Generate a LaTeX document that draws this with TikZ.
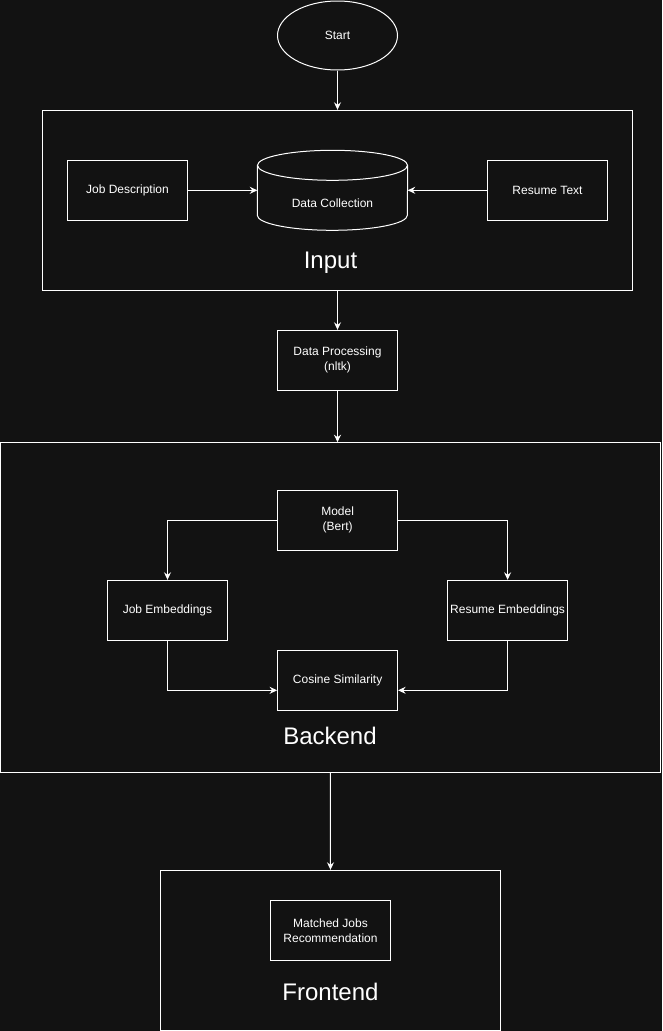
\documentclass[tikz,border=0pt]{standalone}
\usepackage{fontspec}
\setmainfont{Liberation Sans}
\usetikzlibrary{arrows.meta,calc,shapes.geometric}
\definecolor{bg}{HTML}{121212}
\begin{document}
\begin{tikzpicture}[x=1pt,y=-1pt,
  box/.style={draw=white,line width=1pt,minimum width=120pt,minimum height=60pt,inner sep=0pt,text=white,font=\fontsize{12}{15}\selectfont,align=center},
  grp/.style={draw=white,line width=1pt,inner sep=0pt},
  title/.style={text=white,font=\fontsize{24}{28}\selectfont,inner sep=0pt,anchor=base},
  conn/.style={draw=white,line width=1pt,-{Stealth[length=7.5pt,width=7pt,inset=2.5pt]}}]
\fill[bg] (0,0) rectangle (662,1031);
\useasboundingbox (0,0) rectangle (662,1031);

% Start
\node[box,ellipse,minimum width=120pt,minimum height=69pt] (start) at (337.5,35.5) {Start};

% Input group
\node[grp,minimum width=590.4pt,minimum height=180pt] (input) at (337.4,200.3) {};
\node[box] (jd) at (127.5,190.3) {Job Description};
\node[inner sep=0pt,minimum width=150pt,minimum height=80pt] (dc) at (332.5,190.3) {};
\draw[white,line width=1pt,fill=bg]
  (dc.west |- 0,165.3) -- (dc.west |- 0,215.3)
  arc[start angle=180,end angle=360,x radius=75pt,y radius=15pt]
  -- (dc.east |- 0,165.3);
\draw[white,line width=1pt] (332.5,165.3) ellipse[x radius=75pt,y radius=15pt];
\node[text=white,font=\fontsize{12}{15}\selectfont,inner sep=0pt] (dct) at (332.5,203.5) {Data Collection};
\node[box] (rt) at (547.5,190.3) {Resume Text};
\node[title] (inlbl) at (330.5,268) {Input};

% Data processing
\node[box] (dp) at (337.5,360.3) {Data Processing\\(nltk)};

% Backend group
\node[grp,minimum width=660pt,minimum height=329.6pt] (backend) at (330.4,607.5) {};
\node[box] (model) at (337.6,520.3) {Model\\(Bert)};
\node[box] (je) at (167.5,610.3) {Job Embeddings};
\node[box] (re) at (507.6,610.3) {Resume Embeddings};
\node[box] (cs) at (337.6,680.3) {Cosine Similarity};
\node[title] (belbl) at (330,744.3) {Backend};
\coordinate (csl) at ($(cs.west)+(0,10)$);
\coordinate (csr) at ($(cs.east)+(0,10)$);

% Frontend group
\node[grp,minimum width=340.4pt,minimum height=160.2pt] (frontend) at (330.5,950.4) {};
\node[box] (mj) at (330.5,930.3) {Matched Jobs\\Recommendation};
\node[title] (felbl) at (330.5,1000.7) {Frontend};

% Connectors
\draw[conn] (start.south) -- (start.south |- input.north);
\draw[conn] (jd.east) -- (dc.west);
\draw[conn] (rt.west) -- (dc.east);
\draw[conn] (dp.north |- input.south) -- (dp.north);
\draw[conn] (dp.south) -- (dp.south |- backend.north);
\draw[conn] (model.west) -| (je.north);
\draw[conn] (model.east) -| (re.north);
\draw[conn] (je.south) |- (csl);
\draw[conn] (re.south) |- (csr);
\draw[conn] (backend.south) -- (frontend.north);
\end{tikzpicture}
\end{document}
